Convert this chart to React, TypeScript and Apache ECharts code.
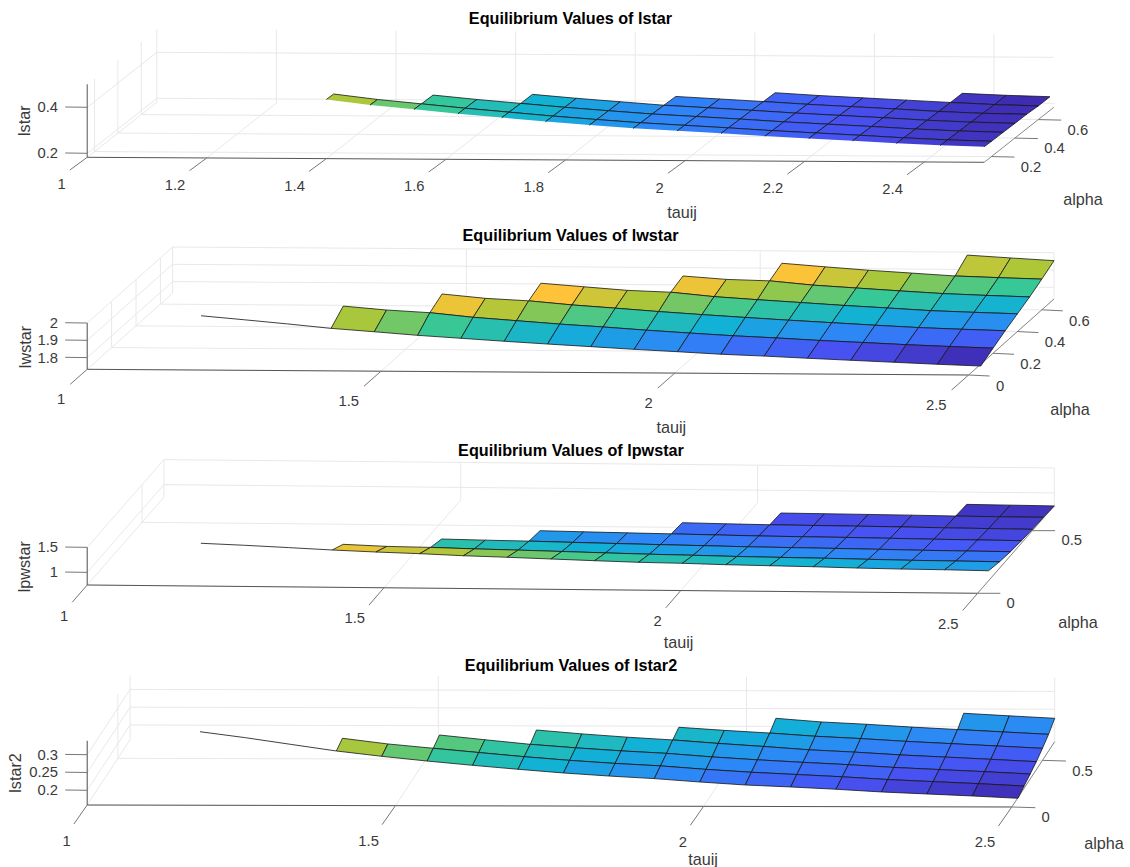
import React, { useEffect, useRef } from "react";
import * as echarts from "echarts";

const tauijTop = [1.18, 1.2533, 1.3267, 1.4, 1.4733, 1.5467, 1.62, 1.6933, 1.7667, 1.84, 1.9133, 1.9867, 2.06, 2.1333, 2.2067, 2.28, 2.3533, 2.4267, 2.5];
const tauij = [1.173, 1.2467, 1.3204, 1.3942, 1.4679, 1.5416, 1.6153, 1.689, 1.7627, 1.8364, 1.9101, 1.9839, 2.0576, 2.1313, 2.205, 2.2787, 2.3524, 2.4261, 2.5];
const alpha = [0.1, 0.2, 0.3, 0.4, 0.5, 0.6, 0.7];

// one inner list per tauij value, holding the values for alpha[0], alpha[1], ...
const lstar = [
  [0.52], [0.493], [0.466],
  [0.441, 0.4387], [0.418, 0.416],
  [0.4, 0.398, 0.396], [0.382, 0.38, 0.378],
  [0.366, 0.364, 0.362, 0.361], [0.35, 0.348, 0.346, 0.345], [0.336, 0.334, 0.332, 0.331],
  [0.323, 0.321, 0.319, 0.317, 0.315], [0.313, 0.311, 0.309, 0.307, 0.305],
  [0.303, 0.301, 0.299, 0.297, 0.295, 0.293], [0.292, 0.29, 0.288, 0.286, 0.284, 0.282],
  [0.283, 0.281, 0.279, 0.277, 0.275, 0.273], [0.274, 0.272, 0.27, 0.268, 0.266, 0.264],
  [0.264, 0.262, 0.26, 0.258, 0.256, 0.255, 0.2545],
  [0.256, 0.254, 0.2525, 0.251, 0.249, 0.247, 0.247],
  [0.251, 0.249, 0.248, 0.2465, 0.2457, 0.242, 0.242],
];
const lwstar = [
  [1.983], [1.9614], [1.939],
  [1.915, 1.981], [1.897, 1.96],
  [1.878, 1.946, 1.9915], [1.8625, 1.921, 1.968],
  [1.847, 1.903, 1.955, 1.994], [1.8325, 1.885, 1.933, 1.975], [1.819, 1.87, 1.916, 1.956],
  [1.805, 1.853, 1.898, 1.947, 1.978], [1.793, 1.838, 1.882, 1.923, 1.96],
  [1.78, 1.824, 1.867, 1.907, 1.953, 1.992], [1.771, 1.813, 1.853, 1.892, 1.93, 1.973],
  [1.76, 1.8, 1.84, 1.877, 1.915, 1.955], [1.75, 1.79, 1.827, 1.864, 1.9, 1.94],
  [1.74, 1.779, 1.815, 1.85, 1.886, 1.925, 1.983],
  [1.73, 1.77, 1.807, 1.842, 1.877, 1.917, 1.968],
  [1.7215, 1.762, 1.8, 1.835, 1.87, 1.91, 1.954],
];
const lpwstar = [
  [1.35], [1.318], [1.28],
  [1.24, 1.103], [1.208, 1.07],
  [1.183, 1.058, 0.975], [1.15, 1.036, 0.96],
  [1.127, 1.02, 0.949, 0.907], [1.101, 1.0, 0.932, 0.893], [1.075, 0.98, 0.917, 0.88],
  [1.051, 0.962, 0.903, 0.868, 0.841], [1.039, 0.949, 0.89, 0.855, 0.827],
  [1.019, 0.933, 0.876, 0.842, 0.816, 0.8], [1.007, 0.923, 0.868, 0.835, 0.81, 0.794],
  [0.995, 0.914, 0.86, 0.829, 0.804, 0.788], [0.977, 0.901, 0.85, 0.82, 0.797, 0.782],
  [0.965, 0.889, 0.839, 0.81, 0.787, 0.772, 0.755],
  [0.959, 0.883, 0.832, 0.803, 0.78, 0.765, 0.748],
  [0.947, 0.877, 0.827, 0.797, 0.773, 0.763, 0.74],
];
const lstar2 = [
  [0.339], [0.3225], [0.304],
  [0.2857, 0.2952], [0.271, 0.2795],
  [0.258, 0.2677, 0.2787], [0.2463, 0.256, 0.2657],
  [0.2354, 0.2445, 0.2531, 0.2671], [0.2253, 0.2345, 0.2435, 0.2565], [0.217, 0.2262, 0.2352, 0.2475],
  [0.21, 0.2195, 0.2285, 0.24, 0.2494], [0.2008, 0.21, 0.2188, 0.2305, 0.241],
  [0.1927, 0.2022, 0.2109, 0.2222, 0.2337, 0.2489], [0.1874, 0.1961, 0.2041, 0.2131, 0.225, 0.239],
  [0.1812, 0.19, 0.1979, 0.2069, 0.2187, 0.2327], [0.1739, 0.1826, 0.1904, 0.1994, 0.2112, 0.225],
  [0.1685, 0.177, 0.1847, 0.1935, 0.205, 0.2185, 0.238],
  [0.1632, 0.1715, 0.179, 0.1875, 0.1988, 0.212, 0.231],
  [0.157, 0.1652, 0.1727, 0.1812, 0.1924, 0.2056, 0.2244],
];

const tauTicks1 = [1, 1.2, 1.4, 1.6, 1.8, 2, 2.2, 2.4];
const tauTicks = [1, 1.5, 2, 2.5];

const parula = [
  [0.2422, 0.1504, 0.6603], [0.281, 0.3228, 0.9578], [0.1786, 0.5289, 0.9682], [0.0689, 0.6948, 0.8394],
  [0.2161, 0.7843, 0.5923], [0.672, 0.7793, 0.2227], [0.997, 0.7659, 0.2199], [0.9769, 0.9839, 0.0805],
];
function parulaColor(f: number) {
  const x = Math.max(0, Math.min(1, f)) * (parula.length - 1);
  const i = Math.min(parula.length - 2, Math.floor(x));
  const k = x - i;
  const c = parula[i].map((v, n) => Math.round(255 * (v + (parula[i + 1][n] - v) * k)));
  return `rgb(${c[0]},${c[1]},${c[2]})`;
}

const FONT = '"Liberation Sans", Arial, sans-serif';
const INK = "#3a3a3a";
const GRID = "#e8e8e8";
const AXIS = "#555555";
const TICK_SIZE = 14.8;
const LABEL_SIZE = 16.2;

const panels = [
  {
    name: "lstar", z: lstar, tau: tauijTop, title: [570.5, 18], zLabelPos: [24, 120.7], tauPos: [682, 211.7], alphaPos: [1083, 199],
    origin: [87.2, 157.3], tPer: [598, 3.33], aPer: [117, -92.4], zPer: 230,
    tLim: [1, 2.5], aLim: [0.138, 0.733], zLim: [0.1826, 0.5],
    tTicks: tauTicks1, aTicks: [0.2, 0.4, 0.6], zTicks: [0.2, 0.4],
    tickDir: [-17.3, 12.7], tLab: [-21.5, 27], aTick: [23, 0.5],
  },
  {
    name: "lwstar", z: lwstar, tau: tauij, title: [570.5, 234.7], zLabelPos: [24.5, 347], tauPos: [671.3, 426.7], alphaPos: [1070, 409],
    origin: [87.2, 369.3], tPer: [587.6, 3.8], aPer: [122, -108.6], zPer: 173,
    tLim: [1, 2.5], aLim: [0, 0.7], zLim: [1.7325, 2],
    tTicks: tauTicks, aTicks: [0, 0.2, 0.4, 0.6], zTicks: [1.8, 1.9, 2],
    tickDir: [-17, 15], tLab: [-22, 30], aTick: [21, 1],
  },
  {
    name: "lpwstar", z: lpwstar, tau: tauij, title: [571, 450], zLabelPos: [24, 566.7], tauPos: [678.5, 641.7], alphaPos: [1078, 622],
    origin: [87.2, 585], tPer: [593.6, 5.53], aPer: [109.6, -125.3], zPer: 50,
    tLim: [1, 2.5], aLim: [0, 0.7], zLim: [0.747, 1.5],
    tTicks: tauTicks, aTicks: [0, 0.5], zTicks: [1, 1.5],
    tickDir: [-15, 17.3], tLab: [-19, 30.5], aTick: [22.7, 0],
  },
  {
    name: "lstar2", z: lstar2, tau: tauij, title: [571, 664.7], zLabelPos: [15, 773], tauPos: [703, 858.5], alphaPos: [1104, 843],
    origin: [87.2, 805], tPer: [616.4, 1.33], aPer: [61.3, -93.3], zPer: 356,
    tLim: [1, 2.5], aLim: [0, 0.7], zLim: [0.1587, 0.339],
    tTicks: tauTicks, aTicks: [0, 0.5], zTicks: [0.2, 0.25, 0.3],
    tickDir: [-13.3, 19], tLab: [-16.5, 35.5], aTick: [23.5, 0.7],
  },
];

type Panel = (typeof panels)[number];

function project(p: Panel, t: number, a: number, z: number, api: any) {
  const dt = t - p.tLim[0];
  const da = a - p.aLim[0];
  const dz = z - p.zLim[0];
  return api.coord([
    p.origin[0] + dt * p.tPer[0] + da * p.aPer[0],
    p.origin[1] + dt * p.tPer[1] + da * p.aPer[1] - dz * p.zPer,
  ]);
}

const seg = (a: number[], b: number[], stroke: string, lineWidth: number) => ({
  type: "line",
  shape: { x1: a[0], y1: a[1], x2: b[0], y2: b[1] },
  style: { stroke, lineWidth, fill: "none" },
});
const label = (text: string, x: number, y: number, align: string, extra: any = {}) => ({
  type: "text",
  x,
  y,
  rotation: extra.rotation || 0,
  style: {
    text,
    x: 0,
    y: 0,
    fill: extra.fill || INK,
    font: `${extra.bold ? "bold " : ""}${extra.size || TICK_SIZE}px ${FONT}`,
    align,
    verticalAlign: "middle",
  },
});

function frame(p: Panel, api: any) {
  const [t0, t1] = p.tLim;
  const [a0, a1] = p.aLim;
  const [z0, z1] = p.zLim;
  const P = (t: number, a: number, z: number) => project(p, t, a, z, api);
  const kids: any[] = [];
  // grid on floor and the two back walls
  for (const t of p.tTicks) {
    kids.push(seg(P(t, a0, z0), P(t, a1, z0), GRID, 1));
    kids.push(seg(P(t, a1, z0), P(t, a1, z1), GRID, 1));
  }
  for (const a of p.aTicks) {
    kids.push(seg(P(t0, a, z0), P(t1, a, z0), GRID, 1));
    kids.push(seg(P(t0, a, z0), P(t0, a, z1), GRID, 1));
  }
  for (const z of p.zTicks) {
    kids.push(seg(P(t0, a0, z), P(t0, a1, z), GRID, 1));
    kids.push(seg(P(t0, a1, z), P(t1, a1, z), GRID, 1));
  }
  // axes
  kids.push(seg(P(t0, a0, z0), P(t0, a0, z1), AXIS, 1));
  kids.push(seg(P(t0, a0, z0), P(t1, a0, z0), AXIS, 1));
  kids.push(seg(P(t1, a0, z0), P(t1, a1, z0), "#8a8a8a", 1));
  for (const t of p.tTicks) {
    const s = P(t, a0, z0);
    kids.push(seg(s, [s[0] + p.tickDir[0], s[1] + p.tickDir[1]], "#777777", 1));
    kids.push(label(String(t), s[0] + p.tLab[0], s[1] + p.tLab[1], "right"));
  }
  for (const a of p.aTicks) {
    const s = P(t1, a, z0);
    const e = [s[0] + p.aTick[0], s[1] + p.aTick[1]];
    kids.push(seg(s, e, "#777777", 1));
    kids.push(label(String(a), e[0] + 6.3, e[1] + 9.7, "left"));
  }
  for (const z of p.zTicks) {
    const s = P(t0, a0, z);
    kids.push(seg(s, [s[0] - 22, s[1] - 0.3], "#777777", 1));
    kids.push(label(String(z), 58, s[1], "right"));
  }
  // axis names and title
  kids.push(label(p.name, p.zLabelPos[0], p.zLabelPos[1], "center", { rotation: Math.PI / 2, size: LABEL_SIZE }));
  kids.push(label("tauij", p.tauPos[0], p.tauPos[1], "center", { size: LABEL_SIZE }));
  kids.push(label("alpha", p.alphaPos[0], p.alphaPos[1], "center", { size: LABEL_SIZE }));
  kids.push(label(`Equilibrium Values of ${p.name}`, p.title[0], p.title[1], "center", { bold: true, fill: "#000", size: LABEL_SIZE }));
  return { type: "group", children: kids };
}

function surfaceCell(p: Panel, cMin: number, cMax: number, api: any) {
  const c = api.value(0);
  const r = api.value(1);
  const aMin = p.aLim[0];
  const P = (q: number[]) => project(p, q[0], q[1], q[2], api);
  let A = [p.tau[c], alpha[r], p.z[c][r]];
  let B = [p.tau[c + 1], alpha[r], p.z[c + 1][r]];
  const C = [p.tau[c + 1], alpha[r + 1], p.z[c + 1][r + 1]];
  const D = [p.tau[c], alpha[r + 1], p.z[c][r + 1]];
  const fill = parulaColor((p.z[c][r] - cMin) / (cMax - cMin));
  const EDGE = "#161616";
  let clipped = false;
  if (alpha[r] < aMin) {
    const f = (aMin - alpha[r]) / (alpha[r + 1] - alpha[r]);
    A = A.map((v, i) => v + (D[i] - v) * f);
    B = B.map((v, i) => v + (C[i] - v) * f);
    clipped = true;
  }
  const pts = [P(A), P(B), P(C), P(D)];
  if (!clipped) {
    return { type: "polygon", shape: { points: pts }, style: { fill, stroke: EDGE, lineWidth: 0.8 } };
  }
  return {
    type: "group",
    children: [
      { type: "polygon", shape: { points: pts }, style: { fill, stroke: "none" } },
      { type: "polyline", shape: { points: [pts[0], pts[3], pts[2], pts[1]] }, style: { fill: "none", stroke: EDGE, lineWidth: 0.8 } },
    ],
  };
}

function stem(p: Panel, api: any) {
  if (alpha[0] < p.aLim[0]) return { type: "group", children: [] };
  const pts: number[][] = [];
  for (let c = 0; c <= 3; c++) pts.push(project(p, p.tau[c], alpha[0], p.z[c][0], api));
  return { type: "polyline", shape: { points: pts }, style: { fill: "none", stroke: "#2a2a2a", lineWidth: 0.9 } };
}

function buildOption() {
  const series: any[] = [];
  panels.forEach((p, idx) => {
    const all = p.z.flat();
    const cMin = Math.min(...all);
    const cMax = Math.max(...all);
    const cells: number[][] = [];
    for (let r = alpha.length - 2; r >= 0; r--) {
      for (let c = 0; c < p.tau.length - 1; c++) {
        if (p.z[c].length > r + 1 && p.z[c + 1].length > r + 1) cells.push([c, r]);
      }
    }
    series.push({
      type: "custom", name: `${p.name} frame`, coordinateSystem: "cartesian2d", silent: true, z: 1 + idx,
      data: [[0, 0]], renderItem: (_: any, api: any) => frame(p, api),
    });
    series.push({
      type: "custom", name: `${p.name} edge`, coordinateSystem: "cartesian2d", silent: true, z: 1 + idx,
      data: [[0, 0]], renderItem: (_: any, api: any) => stem(p, api),
    });
    series.push({
      type: "custom", name: p.name, coordinateSystem: "cartesian2d", silent: true, z: 1 + idx,
      data: cells, renderItem: (_: any, api: any) => surfaceCell(p, cMin, cMax, api),
    });
  });
  return {
    animation: false,
    backgroundColor: "#ffffff",
    grid: { left: 0, right: 0, top: 0, bottom: 0 },
    xAxis: { type: "value", min: 0, max: 1130, show: false },
    yAxis: { type: "value", min: 0, max: 867, inverse: true, show: false },
    series,
  };
}

export default function App() {
  const ref = useRef<HTMLDivElement>(null);
  useEffect(() => {
    const chart = echarts.init(ref.current!, undefined, { renderer: "svg" });
    chart.setOption(buildOption() as any);
    return () => chart.dispose();
  }, []);
  return <div ref={ref} style={{ position: "fixed", left: 0, top: 0, width: 1130, height: 867 }} />;
}
